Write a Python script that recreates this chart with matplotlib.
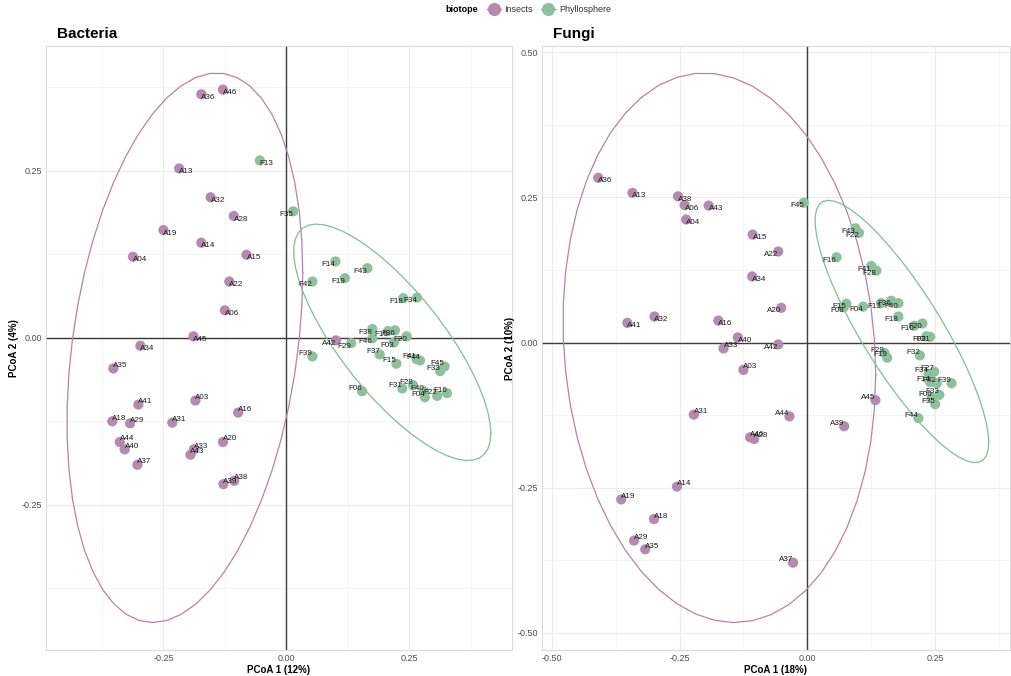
import numpy as np
import matplotlib
matplotlib.use("Agg")
import matplotlib.pyplot as plt
from matplotlib.lines import Line2D

plt.rcParams['font.family'] = ['Liberation Sans', 'DejaVu Sans']

# ---- PCoA scores, bacterial community ----
bac_ids = ["A36", "A46", "A13", "A32", "A28", "A19", "A14", "A04", "A15", "A22",
           "A06", "A45", "A34", "A35", "A41", "A03", "A16", "A18", "A29", "A31",
           "A20", "A44", "A40", "A33", "A43", "A37", "A39", "A38", "A42",
           "F13", "F35", "F14", "F43", "F19", "F42", "F18", "F34", "F38", "F10",
           "F36", "F20", "F29", "F46", "F03", "F37", "F15", "F44", "F41", "F45",
           "F33", "F31", "F28", "F40", "F04", "F22", "F16", "F06", "F39"]
bac_pc1 = [-0.173, -0.129, -0.218, -0.154, -0.107, -0.250, -0.173, -0.312, -0.081, -0.116,
           -0.125, -0.189, -0.297, -0.352, -0.301, -0.185, -0.098, -0.354, -0.318, -0.232,
           -0.129, -0.339, -0.329, -0.188, -0.195, -0.303, -0.128, -0.106, 0.101,
           -0.054, 0.014, 0.100, 0.165, 0.119, 0.053, 0.238, 0.266, 0.175, 0.207,
           0.221, 0.245, 0.132, 0.175, 0.219, 0.190, 0.224, 0.272, 0.265, 0.322,
           0.313, 0.236, 0.258, 0.280, 0.282, 0.307, 0.327, 0.154, 0.053]
bac_pc2 = [0.364, 0.371, 0.253, 0.210, 0.182, 0.161, 0.142, 0.121, 0.124, 0.084,
           0.041, 0.002, -0.012, -0.046, -0.100, -0.094, -0.112, -0.125, -0.128, -0.127,
           -0.156, -0.156, -0.167, -0.167, -0.175, -0.190, -0.219, -0.214, -0.004,
           0.265, 0.189, 0.114, 0.104, 0.089, 0.084, 0.059, 0.060, 0.013, 0.010,
           0.011, 0.002, -0.008, -0.001, -0.007, -0.025, -0.039, -0.034, -0.032, -0.043,
           -0.050, -0.076, -0.071, -0.080, -0.089, -0.087, -0.083, -0.080, -0.028]

# ---- PCoA scores, fungal community ----
fun_ids = ["A36", "A13", "A38", "A06", "A43", "A04", "A15", "A22", "A34", "A20",
           "A41", "A32", "A16", "A40", "A33", "A42", "A03", "A31", "A44", "A46",
           "A28", "A14", "A19", "A18", "A29", "A35", "A37", "A45", "A39",
           "F45", "F43", "F22", "F16", "F41", "F28", "F15", "F08", "F04", "F13",
           "F36", "F40", "F18", "F10", "F20", "F03", "F21", "F29", "F19", "F32",
           "F27", "F34", "F14", "F42", "F39", "F33", "F06", "F35", "F44"]
fun_pc1 = [-0.409, -0.342, -0.253, -0.240, -0.193, -0.237, -0.107, -0.057, -0.108, -0.051,
           -0.352, -0.299, -0.174, -0.136, -0.164, -0.057, -0.125, -0.222, -0.035, -0.112,
           -0.104, -0.255, -0.364, -0.300, -0.339, -0.317, -0.028, 0.133, 0.072,
           -0.007, 0.094, 0.101, 0.057, 0.125, 0.135, 0.076, 0.071, 0.109, 0.144,
           0.164, 0.178, 0.178, 0.209, 0.225, 0.233, 0.240, 0.151, 0.156, 0.220,
           0.248, 0.237, 0.240, 0.253, 0.282, 0.258, 0.243, 0.250, 0.217]
fun_pc2 = [0.284, 0.258, 0.252, 0.237, 0.236, 0.212, 0.186, 0.157, 0.114, 0.060,
           0.034, 0.045, 0.038, 0.009, -0.010, -0.003, -0.047, -0.124, -0.127, -0.163,
           -0.166, -0.248, -0.270, -0.304, -0.341, -0.356, -0.379, -0.099, -0.144,
           0.241, 0.197, 0.189, 0.147, 0.132, 0.124, 0.067, 0.061, 0.062, 0.068,
           0.072, 0.068, 0.045, 0.029, 0.033, 0.011, 0.010, -0.018, -0.026, -0.022,
           -0.050, -0.054, -0.068, -0.070, -0.070, -0.090, -0.095, -0.106, -0.130]

groups = ["Insects", "Phyllosphere"]
point_col = {"Insects": "#B48BAE", "Phyllosphere": "#8DC19D"}
line_col = {"Insects": "#B384A9", "Phyllosphere": "#88BA96"}

W, H = 1012, 676


def cov_trob(xy, nu=5, maxit=25, tol=0.01):
    """Multivariate-t robust location/scatter (as in MASS::cov.trob)."""
    n, p = xy.shape
    loc = xy.mean(axis=0)
    w = np.ones(n)
    X = xy - loc
    for _ in range(maxit):
        w0 = w
        X = xy - loc
        _, d, vt = np.linalg.svd(np.sqrt(w / w.sum())[:, None] * X, full_matrices=False)
        wX = X @ vt.T @ np.diag(1.0 / d)
        Q = (wX ** 2).sum(axis=1)
        w = (nu + p) / (nu + Q)
        loc = (w[:, None] * xy).sum(axis=0) / w.sum()
        if np.all(np.abs(w - w0) < tol):
            break
    sX = np.sqrt(w)[:, None] * X
    return loc, sX.T @ sX / n


def conf_ellipse(xy, level=0.95, segments=51):
    n = xy.shape[0]
    center, shape = cov_trob(xy)
    dfd = n - 1
    fq = dfd / 2.0 * (((1 - level) ** (-2.0 / dfd)) - 1.0)  # F(2, dfd) quantile
    radius = np.sqrt(2 * fq)
    ang = np.linspace(0, 2 * np.pi, segments + 1)
    circ = np.column_stack([np.cos(ang), np.sin(ang)])
    L = np.linalg.cholesky(shape)
    return center + radius * circ @ L.T


def box(l, t, r, b):
    return [l / W, 1 - b / H, (r - l) / W, (b - t) / H]


def panel(ax, ids, pc1, pc2, title, xlab, ylab, title_x):
    ids = np.array(ids)
    pc1 = np.array(pc1)
    pc2 = np.array(pc2)
    grp = np.array(["Insects" if s.startswith("A") else "Phyllosphere" for s in ids])

    ells = {g: conf_ellipse(np.column_stack([pc1[grp == g], pc2[grp == g]])) for g in groups}
    allx = np.concatenate([pc1] + [e[:, 0] for e in ells.values()] + [[0]])
    ally = np.concatenate([pc2] + [e[:, 1] for e in ells.values()] + [[0]])
    xr = allx.max() - allx.min()
    yr = ally.max() - ally.min()
    xlim = (allx.min() - 0.05 * xr, allx.max() + 0.05 * xr)
    ylim = (ally.min() - 0.05 * yr, ally.max() + 0.05 * yr)
    ax.set_xlim(xlim)
    ax.set_ylim(ylim)

    step = 0.25
    majx = [v for v in np.arange(-1, 1.01, step) if xlim[0] <= v <= xlim[1]]
    majy = [v for v in np.arange(-1, 1.01, step) if ylim[0] <= v <= ylim[1]]
    minx = [v for v in np.arange(-1.125, 1.2, step) if xlim[0] <= v <= xlim[1]]
    miny = [v for v in np.arange(-1.125, 1.2, step) if ylim[0] <= v <= ylim[1]]
    for v in minx:
        ax.axvline(v, color="#F2F2F2", lw=0.5, zorder=0)
    for v in miny:
        ax.axhline(v, color="#F2F2F2", lw=0.5, zorder=0)
    for v in majx:
        ax.axvline(v, color="#EBEBEB", lw=0.8, zorder=0)
    for v in majy:
        ax.axhline(v, color="#EBEBEB", lw=0.8, zorder=0)

    ax.axvline(0, color="#3A3A3A", lw=1.0, zorder=1)
    ax.axhline(0, color="#3A3A3A", lw=1.0, zorder=1)

    for g in groups:
        m = grp == g
        ax.scatter(pc1[m], pc2[m], s=54, color=point_col[g], edgecolors="none", zorder=3)
        e = ells[g]
        ax.plot(e[:, 0], e[:, 1], color=line_col[g], lw=0.9, zorder=2)

    cx = (xlim[0] + xlim[1]) / 2
    cy = (ylim[0] + ylim[1]) / 2
    for name, x, y in zip(ids, pc1, pc2):
        ha = "left" if x < cx else "right"
        dy = 2.2 if y < cy else -2.2
        ax.annotate(name, (x, y), xytext=(0, dy), textcoords="offset points",
                    ha=ha, va="center", fontsize=5.8, color="#1A1A1A", zorder=4)

    ax.set_xticks(majx)
    ax.set_xticklabels([f"{v:.2f}" for v in majx])
    ax.set_yticks(majy)
    ax.set_yticklabels([f"{v:.2f}" for v in majy])
    ax.tick_params(length=0, labelsize=6.5, labelcolor="#4D4D4D", pad=3)
    for s in ax.spines.values():
        s.set_color("#D5D5D5")
        s.set_linewidth(0.6)
    ax.set_xlabel(xlab, fontsize=7, fontweight="bold", labelpad=1.5)
    ax.set_ylabel(ylab, fontsize=7, fontweight="bold", labelpad=2)
    fig.text(title_x / W, 1 - 34 / H, title, fontsize=11, fontweight="bold",
             ha="left", va="center")


fig = plt.figure(figsize=(W / 100, H / 100), dpi=100)
ax_b = fig.add_axes(box(46, 46, 512, 650))
ax_f = fig.add_axes(box(542, 46, 1010, 650))

panel(ax_b, bac_ids, bac_pc1, bac_pc2, "Bacteria", "PCoA 1 (12%)", "PCoA 2 (4%)", 57)
panel(ax_f, fun_ids, fun_pc1, fun_pc2, "Fungi", "PCoA 1 (18%)", "PCoA 2 (10%)", 553)

# Legend across the top
fig.text(478 / W, 1 - 10 / H, "biotope", fontsize=6.5, fontweight="bold", ha="right", va="center")
handles = [Line2D([0], [0], color=line_col[g], lw=0.9, marker="o", markersize=9.5,
                  markerfacecolor=point_col[g], markeredgecolor="none") for g in groups]
fig.legend(handles, groups, loc="center left", bbox_to_anchor=(482 / W, 1 - 10 / H),
           ncol=2, frameon=False, fontsize=6.5, handlelength=1.6, handletextpad=0.4,
           columnspacing=0.9, borderpad=0, labelcolor="#333333")

fig.savefig("out.png", dpi=100)
